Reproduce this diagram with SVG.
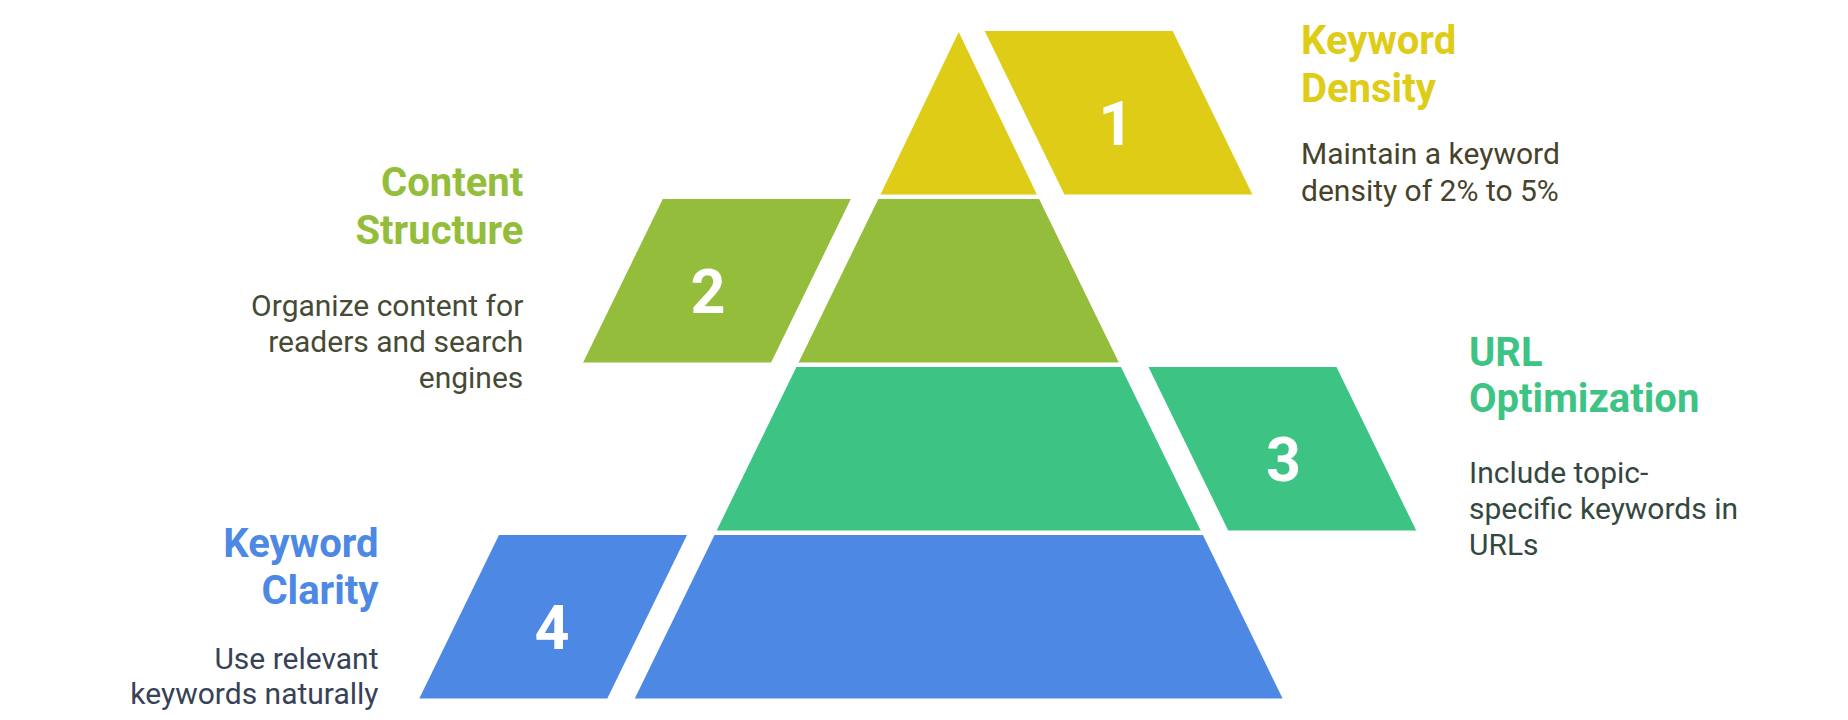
<svg xmlns="http://www.w3.org/2000/svg" width="1848" height="720" viewBox="0 0 1848 720">
<style>
.num{font-family:Roboto,"Liberation Sans",sans-serif;font-weight:700;font-size:61px;fill:#ffffff;text-anchor:middle}
.title{font-family:Roboto,"Liberation Sans",sans-serif;font-weight:700;font-size:40px}
.desc{font-family:Roboto,"Liberation Sans",sans-serif;font-weight:400;font-size:30px}
.y{fill:#DECC17}.g{fill:#93BD3A}.t{fill:#3DC484}.b{fill:#4E88E5}
.end{text-anchor:end}
</style>
<rect width="1848" height="720" fill="#ffffff"/>
<g id="level1">
<polygon class="y" points="958.7,32 1036.9,194.5 880.5,194.5"/>
<polygon class="y" points="984.7,31 1172.7,31 1252.4,194.5 1064.4,194.5"/>
<text class="num" x="1116" y="145">1</text>
<text class="title y" x="1301" y="54">Keyword</text>
<text class="title y" x="1301" y="101.7">Density</text>
<text class="desc" fill="#46432A" x="1301" y="164.3">Maintain a keyword</text>
<text class="desc" fill="#46432A" x="1301" y="200.7">density of 2% to 5%</text>
</g>
<g id="level2">
<polygon class="g" points="878.3,199 1039.1,199 1118.8,362.5 798.6,362.5"/>
<polygon class="g" points="662.8,199 850.8,199 771.1,362.5 583.1,362.5"/>
<text class="num" x="708" y="313">2</text>
<text class="title g end" x="523.3" y="195.7">Content</text>
<text class="title g end" x="523.3" y="243.5">Structure</text>
<text class="desc end" fill="#464B35" x="523.3" y="315.7">Organize content for</text>
<text class="desc end" fill="#464B35" x="523.3" y="351.7">readers and search</text>
<text class="desc end" fill="#464B35" x="523.3" y="387.7">engines</text>
</g>
<g id="level3">
<polygon class="t" points="796.4,367 1121,367 1200.7,530.5 716.7,530.5"/>
<polygon class="t" points="1148.5,367 1336.5,367 1416.2,530.5 1228.2,530.5"/>
<text class="num" x="1283.6" y="481">3</text>
<text class="title t" x="1469" y="365.7">URL</text>
<text class="title t" x="1469" y="411.7">Optimization</text>
<text class="desc" fill="#35483F" x="1469" y="482.5">Include topic-</text>
<text class="desc" fill="#35483F" x="1469" y="518.5">specific keywords in</text>
<text class="desc" fill="#35483F" x="1469" y="554.5">URLs</text>
</g>
<g id="level4">
<polygon class="b" points="714.5,535 1202.9,535 1282.6,698.5 634.8,698.5"/>
<polygon class="b" points="499,535 687,535 607.3,698.5 419.3,698.5"/>
<text class="num" x="552" y="649">4</text>
<text class="title b end" x="378.5" y="556.7">Keyword</text>
<text class="title b end" x="378.5" y="604">Clarity</text>
<text class="desc end" fill="#374257" x="378.5" y="669.3">Use relevant</text>
<text class="desc end" fill="#374257" x="378.5" y="704">keywords naturally</text>
</g>
<g id="connectors"/>
</svg>
